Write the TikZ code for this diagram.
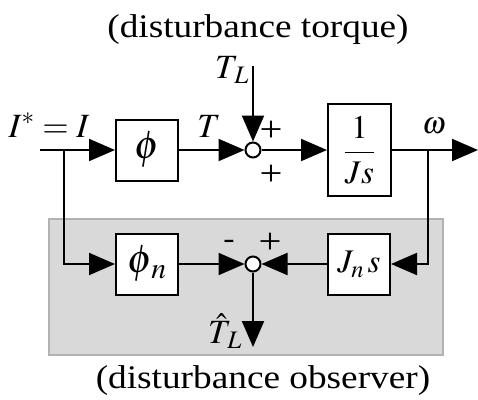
\documentclass[tikz,border=0pt]{standalone}
\usepackage{mathptmx}
\usepackage[no-math]{fontspec}
\setmainfont{Liberation Serif}[FakeStretch=1.13]
\usetikzlibrary{arrows.meta}
\begin{document}
\begin{tikzpicture}[x=1pt,y=-1pt,
  font=\fontsize{33}{38}\selectfont,
  lw/.style={line width=2pt},
  blk/.style={draw, line width=2pt, fill=white, inner sep=0pt, minimum width=62pt, minimum height=61pt},
  sumpt/.style={draw, circle, line width=2pt, fill=white, inner sep=0pt, minimum size=15pt},
  sig/.style={line width=2pt, -{Triangle[length=26pt,width=22pt]}},
  lbl/.style={inner sep=0pt, font=\fontsize{34}{38}\selectfont},
  big/.style={font=\fontsize{40}{44}\selectfont},
  pm/.style={inner sep=0pt, font=\fontsize{36}{40}\selectfont}]
\useasboundingbox (0,0) rectangle (478,399);
% observer background
\node (dob) [draw=black!30, fill=black!15, line width=2pt, minimum width=394pt, minimum height=136pt, inner sep=0pt] at (245.5,286.5) {};
% coordinates
\coordinate (in) at (40,150);
\coordinate (br1) at (64,150);
\coordinate (br2) at (428,150);
\coordinate (out) at (478,150);
\coordinate (tltop) at (253,66);
\coordinate (hatbot) at (253,347);
% blocks
\node (phi) [blk, big] at (147,150) {$\phi$};
\node (G) [blk, minimum width=63pt, minimum height=92pt] at (359.5,150) {$\displaystyle\frac{1}{Js}$};
\node (sum1) [sumpt] at (253,150) {};
\node (phin) [blk, big] at (147,264) {$\phi_{\,n}$};
\node (Jns) [blk] at (359,264) {$J_n\,s$};
\node (sum2) [sumpt] at (253,264) {};
% connectors
\draw[lw] (in) -- (br1);
\draw[sig] (br1) -- (phi);
\draw[sig] (phi) -- (sum1);
\draw[sig] (sum1) -- (G);
\draw[sig] (G) -- (out);
\draw[sig] (tltop) -- (sum1);
\draw[sig] (br1) |- (phin);
\draw[sig] (br2) |- (Jns);
\draw[sig] (phin) -- (sum2);
\draw[sig] (Jns) -- (sum2);
\draw[sig] (sum2) -- (hatbot);
% labels
\node (lin) [lbl, anchor=base] at (49,137) {$I^{*}=I$};
\node (lT) [lbl, anchor=base] at (209,137) {$T$};
\node (lTL) [lbl, anchor=base] at (232,78) {$T_{\,L}$};
\node (lw1) [lbl, anchor=base, font=\fontsize{31}{34}\selectfont] at (434,133) {$\omega$};
\node (p1) [pm] at (271,131) {+};
\node (p2) [pm] at (271,175) {+};
\node (m3) [pm, font=\fontsize{30}{34}\selectfont] at (229,244) {-};
\node (p4) [pm] at (270,243) {+};
\node (lhat) [lbl, anchor=base] at (225,343) {$\hat{T}_{\,L}$};
\node (t1) [anchor=base, inner sep=0pt] at (258,37) {(disturbance torque)};
\node (t2) [anchor=base, inner sep=0pt] at (263,388) {(disturbance observer)};
\end{tikzpicture}
\end{document}
